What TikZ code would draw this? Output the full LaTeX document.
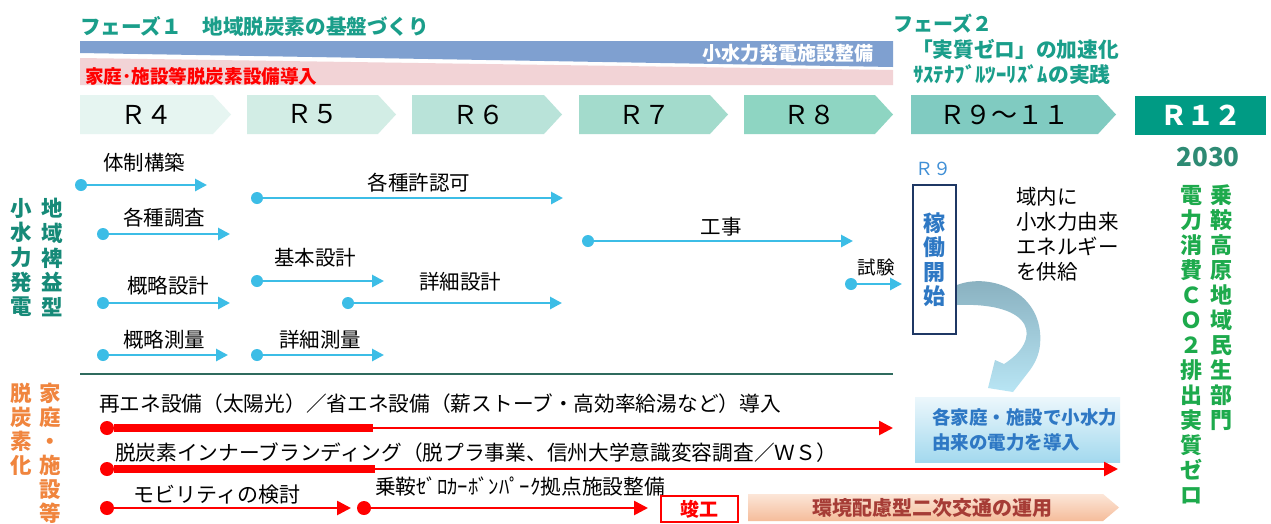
\documentclass[tikz,border=0pt]{standalone}
\usepackage{fontspec}
\setmainfont{Noto Sans CJK JP}
\usetikzlibrary{arrows.meta}
\definecolor{tealT}{HTML}{1A9E8A}
\definecolor{blueband}{HTML}{7FA0D0}
\definecolor{pinkband}{HTML}{F2D3D6}
\definecolor{cA}{HTML}{E6F5F1}
\definecolor{cB}{HTML}{D2EDE5}
\definecolor{cC}{HTML}{B9E3D9}
\definecolor{cD}{HTML}{A3DBCC}
\definecolor{cE}{HTML}{8ED5C2}
\definecolor{cF}{HTML}{80CBC1}
\definecolor{cG}{HTML}{009B84}
\definecolor{abl}{HTML}{3CBDE6}
\definecolor{navy}{HTML}{1F3864}
\definecolor{kblue}{HTML}{2E78C4}
\definecolor{rnine}{HTML}{3F8FD6}
\definecolor{gr}{HTML}{1DAA4C}
\definecolor{dteal}{HTML}{2E8B74}
\definecolor{lteal}{HTML}{168A78}
\definecolor{orng}{HTML}{F0853E}
\definecolor{sepc}{HTML}{2F6B5E}
\definecolor{brn}{HTML}{A63C36}
\definecolor{arrTop}{HTML}{86ADBC}
\definecolor{arrBot}{HTML}{B8E5F4}
\definecolor{boxTop}{HTML}{ECF7FC}
\definecolor{boxBot}{HTML}{A3D9EE}
\definecolor{pchTop}{HTML}{FCE6D8}
\definecolor{pchBot}{HTML}{F5BC9A}
\definecolor{rd}{HTML}{FF0000}
\newcommand\myfs[1]{\fontsize{#1}{#1}\selectfont}
\tikzset{
  bdot/.style={circle, fill=abl, minimum size=12pt, inner sep=0pt},
  barrow/.style={draw=abl, line width=2.8pt, -{Triangle[length=12pt,width=12pt]}},
  rdot/.style={circle, fill=rd, minimum size=14pt, inner sep=0pt},
  rthick/.style={draw=rd, line width=8pt},
  rarrow/.style={draw=rd, line width=2.6pt, -{Triangle[length=14pt,width=14pt]}},
  lbl/.style={font=\myfs{20.5}},
  rtxt/.style={font=\myfs{20.7}, anchor=west},
  chevtxt/.style={font=\myfs{26}},
}
\begin{document}
\begin{tikzpicture}[x=1pt,y=-1pt, every node/.style={inner sep=0pt, outer sep=0pt}]
\useasboundingbox (0,0) rectangle (1271,523);
\fill[white] (0,0) rectangle (1271,523);

% phase 1 header
\node[anchor=west, text=tealT, font=\myfs{20.6}\bfseries] (ph1) at (80,26) {フェーズ１　地域脱炭素の基盤づくり};
\fill[blueband] (80,41) -- (893,41) -- (893,67) -- (80,53) -- cycle;
\fill[pinkband] (80,58) -- (893,70) -- (893,85) -- (80,85) -- cycle;
\node[anchor=east, text=white, font=\myfs{19}\bfseries] (band1) at (873,53) {小水力発電施設整備};
\node[anchor=west, text=rd, font=\myfs{18.6}\bfseries] (band2) at (85,76) {家庭･施設等脱炭素設備導入};

% phase 2 header
\node[anchor=west, text=tealT, font=\myfs{20}\bfseries] (ph2) at (893,24) {フェーズ２};
\node[anchor=west, text=tealT, font=\myfs{20.7}\bfseries] (ph2b) at (912,49) {「実質ゼロ」の加速化};
\node[anchor=west, text=tealT, font=\myfs{20.8}\bfseries] (ph2c) at (913,75) {ｻｽﾃﾅﾌﾞﾙﾂｰﾘｽﾞﾑの実践};

% chevrons
\foreach \s/\t/\c/\lab/\n in {80/231/cA/Ｒ４/y4, 247/396/cB/Ｒ５/y5, 412/562/cC/Ｒ６/y6, 579/728/cD/Ｒ７/y7, 744/893/cE/Ｒ８/y8, 911/1116/cF/Ｒ９～１１/y9}{
  \fill[\c] (\s,95) -- (\t-18,95) -- (\t,114.5) -- (\t-18,134) -- (\s,134) -- cycle;
  \node[chevtxt] (\n) at ({(\s+\t-18)/2},114.5) {\lab};
}
\fill[cG] (1135,96) rectangle (1266,135);
\node[font=\myfs{27}\bfseries, text=white] (y12) at (1200.5,115.5) {Ｒ１２};
\node[font=\myfs{26}\bfseries, text=dteal] (y2030) at (1208,157) {2030};

% right vertical text
\node[text=gr, font=\fontsize{22}{25}\selectfont\bfseries, align=center] (vr1) at (1221,307.5) {乗\\鞍\\高\\原\\地\\域\\民\\生\\部\\門};
\node[text=gr, font=\fontsize{22}{25}\selectfont\bfseries, align=center] (vr2) at (1191,345) {電\\力\\消\\費\\Ｃ\\Ｏ\\２\\排\\出\\実\\質\\ゼ\\ロ};

% left vertical labels
\node[text=lteal, font=\fontsize{21.5}{24.7}\selectfont\bfseries, align=center] (vl1) at (21,257.5) {小\\水\\力\\発\\電};
\node[text=lteal, font=\fontsize{21.5}{24.7}\selectfont\bfseries, align=center] (vl2) at (52,257.5) {地\\域\\裨\\益\\型};
\node[text=orng, font=\fontsize{21.5}{24}\selectfont\bfseries, align=center] (vl3) at (21,429) {脱\\炭\\素\\化};
\node[text=orng, font=\fontsize{21.5}{24}\selectfont\bfseries, align=center] (vl4) at (50,453) {家\\庭\\・\\施\\設\\等};

% blue arrows
\foreach \n/\xa/\xb/\y in {a1/81/207/185, a2/257/563/198, a3/103/230/234, a4/588/853/241, a5/257/384/281, a6/348/562/303, a7/103/230/303, a8/103/228/355, a9/257/384/355, a10/851/902/284}{
  \node[bdot] (\n) at (\xa,\y) {};
  \coordinate (\n-e) at (\xb,\y);
  \draw[barrow] (\n) -- (\n-e);
}
\node[lbl] (l1) at (144,163) {体制構築};
\node[lbl] (l2) at (419,183) {各種許認可};
\node[lbl] (l3) at (164,218) {各種調査};
\node[lbl] (l4) at (721,227) {工事};
\node[lbl] (l5) at (315,258) {基本設計};
\node[lbl] (l6) at (460,282) {詳細設計};
\node[lbl] (l7) at (168,286) {概略設計};
\node[lbl] (l8) at (164,340) {概略測量};
\node[lbl] (l9) at (320,340) {詳細測量};
\node[font=\myfs{18.5}] (l10) at (876,267) {試験};

% operation start box
\node[text=rnine, font=\myfs{18}] (r9) at (933,169) {Ｒ９};
\node[draw=navy, line width=2pt, minimum width=43pt, minimum height=149pt, text=kblue, font=\fontsize{22}{24.5}\selectfont\bfseries, align=center] (kado) at (934.5,259.5) {稼\\働\\開\\始};
\node[anchor=north west, align=left, font=\fontsize{20.5}{25}\selectfont] (supply) at (1016,187) {域内に\\小水力由来\\エネルギー\\を供給};

% curved arrow
\shade[top color=arrTop, bottom color=arrBot] (957,285) .. controls (990,272) and (1045,292) .. (1040,345)
  .. controls (1039,355) and (1035,363) .. (1030,370)
  -- (1013,392) -- (988,388) -- (995,360) -- (1004,364)
  .. controls (1042,340) and (1036,302) .. (957,305) -- cycle;

% box
\node[anchor=north west, minimum width=205pt, minimum height=65pt, top color=boxTop, bottom color=boxBot] (hbox) at (915,397) {};
\node[anchor=west, align=left, text=kblue, font=\fontsize{18.5}{25}\selectfont\bfseries] (htxt) at (932,429.5) {各家庭・施設で小水力\\由来の電力を導入};

% separator
\draw[sepc, line width=1.3pt] (80,374) -- (893,374);

% red section
\node[rtxt] (t1) at (99,404) {再エネ設備（太陽光）／省エネ設備（薪ストーブ・高効率給湯など）導入};
\node[rtxt] (t2) at (115,453) {脱炭素インナーブランディング（脱プラ事業、信州大学意識変容調査／ＷＳ）};
\node[font=\myfs{21}] (t3) at (217,495) {モビリティの検討};
\node[rtxt] (t4) at (375,487) {乗鞍ｾﾞﾛｶｰﾎﾞﾝﾊﾟｰｸ拠点施設整備};

\node[rdot] (r1) at (107,428) {};
\coordinate (r1m) at (373,428);
\coordinate (r1e) at (893,428);
\draw[rarrow] (r1) -- (r1e);
\draw[rthick] (r1) -- (r1m);

\node[rdot] (r2) at (107,469) {};
\coordinate (r2m) at (375,469);
\coordinate (r2e) at (1118,469);
\draw[rarrow] (r2) -- (r2e);
\draw[rthick] (r2) -- (r2m);

\node[rdot] (r3) at (107,508) {};
\coordinate (r3e) at (351,508);
\draw[rarrow] (r3) -- (r3e);

\node[rdot] (r4) at (364,508) {};
\coordinate (r4e) at (648,508);
\draw[rarrow] (r4) -- (r4e);

\node[draw=rd, line width=1.8pt, minimum width=77pt, minimum height=26pt, text=rd, font=\myfs{19}\bfseries] (shunko) at (699.5,509) {竣工};

\shade[top color=pchTop, bottom color=pchBot] (748,494) -- (1103,494) -- (1119,507.5) -- (1103,521) -- (748,521) -- cycle;
\node[text=brn, font=\myfs{20}\bfseries] (unyo) at (932,507.5) {環境配慮型二次交通の運用};
\end{tikzpicture}
\end{document}
